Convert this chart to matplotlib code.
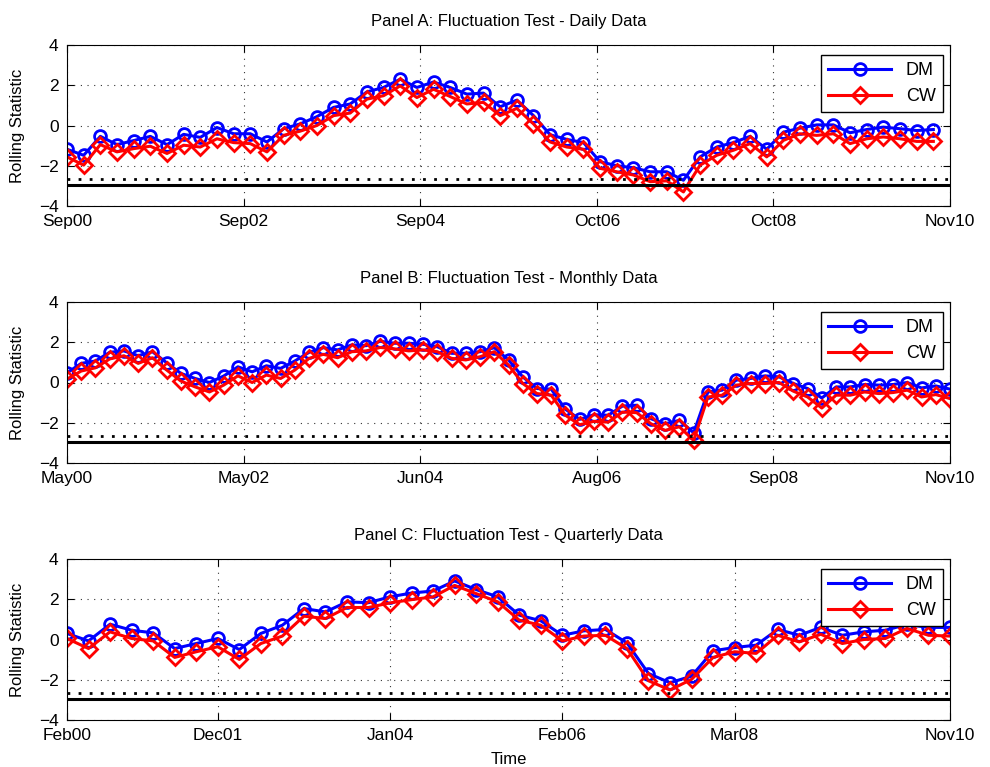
import numpy as np
import matplotlib
matplotlib.use("Agg")
import matplotlib.pyplot as plt

plt.rcParams['font.family'] = ['Liberation Sans', 'DejaVu Sans']

# Panel A: daily data
dm_daily = [-1.18, -1.48, -0.54, -0.95, -0.75, -0.54, -0.95, -0.44, -0.59, -0.10,
            -0.41, -0.41, -0.82, -0.16, 0.08, 0.44, 0.90, 1.07, 1.67, 1.89,
            2.30, 1.89, 2.16, 1.89, 1.56, 1.61, 0.93, 1.26, 0.49, -0.46,
            -0.69, -0.85, -1.80, -2.00, -2.10, -2.30, -2.30, -2.72, -1.56, -1.07,
            -0.85, -0.54, -1.18, -0.33, -0.13, 0.03, 0.03, -0.36, -0.20, -0.08,
            -0.16, -0.25, -0.20]
cw_daily = [-1.56, -1.97, -0.95, -1.31, -1.15, -1.03, -1.39, -0.98, -1.07, -0.66,
            -0.85, -0.90, -1.31, -0.49, -0.28, 0.00, 0.49, 0.62, 1.31, 1.48,
            1.97, 1.39, 1.80, 1.44, 1.07, 1.15, 0.49, 0.85, 0.08, -0.82,
            -1.07, -1.18, -2.13, -2.30, -2.46, -2.79, -2.75, -3.30, -1.97, -1.48,
            -1.23, -0.90, -1.56, -0.74, -0.41, -0.49, -0.41, -0.90, -0.66, -0.57,
            -0.66, -0.79, -0.79]
ticks_daily = ['Sep00', 'Sep02', 'Sep04', 'Oct06', 'Oct08', 'Nov10']

# Panel B: monthly data
dm_monthly = [0.48, 0.95, 1.07, 1.50, 1.57, 1.33, 1.53, 0.98, 0.45, 0.20,
              0.00, 0.32, 0.78, 0.53, 0.83, 0.70, 1.07, 1.50, 1.73, 1.62,
              1.87, 1.83, 2.05, 1.95, 1.95, 1.90, 1.78, 1.45, 1.45, 1.53,
              1.73, 1.12, 0.28, -0.30, -0.33, -1.33, -1.83, -1.60, -1.63, -1.17,
              -1.13, -1.80, -2.05, -1.88, -2.50, -0.47, -0.38, 0.12, 0.20, 0.33,
              0.28, -0.05, -0.30, -0.77, -0.22, -0.22, -0.10, -0.13, -0.10, 0.00,
              -0.27, -0.17, -0.33]
cw_monthly = [0.17, 0.57, 0.73, 1.17, 1.33, 0.95, 1.23, 0.62, 0.07, -0.22,
              -0.47, -0.13, 0.33, 0.00, 0.37, 0.20, 0.62, 1.20, 1.40, 1.23,
              1.53, 1.57, 1.74, 1.67, 1.57, 1.62, 1.53, 1.20, 1.12, 1.28,
              1.53, 0.87, -0.05, -0.55, -0.63, -1.63, -2.10, -1.93, -1.97, -1.47,
              -1.50, -2.05, -2.38, -2.20, -2.88, -0.72, -0.63, -0.13, -0.05, -0.05,
              0.00, -0.43, -0.72, -1.27, -0.63, -0.63, -0.47, -0.55, -0.50, -0.38,
              -0.72, -0.60, -0.80]
ticks_monthly = ['May00', 'May02', 'Jun04', 'Aug06', 'Sep08', 'Nov10']

# Panel C: quarterly data
dm_quarterly = [0.30, -0.07, 0.76, 0.46, 0.33, -0.45, -0.20, 0.05, -0.50, 0.30,
                0.71, 1.54, 1.37, 1.87, 1.83, 2.12, 2.31, 2.41, 2.91, 2.48,
                2.12, 1.21, 0.93, 0.21, 0.43, 0.50, -0.17, -1.69, -2.15, -1.82,
                -0.56, -0.40, -0.28, 0.50, 0.21, 0.60, 0.21, 0.38, 0.46, 0.75,
                0.60, 0.60]
cw_quarterly = [0.05, -0.45, 0.38, 0.05, -0.07, -0.89, -0.61, -0.36, -0.99, -0.20,
                0.17, 1.16, 1.04, 1.59, 1.59, 1.82, 1.98, 2.12, 2.69, 2.28,
                1.87, 0.96, 0.71, -0.07, 0.17, 0.21, -0.45, -2.05, -2.51, -1.98,
                -0.89, -0.61, -0.69, 0.21, -0.12, 0.26, -0.20, 0.00, 0.05, 0.55,
                0.21, 0.17]
ticks_quarterly = ['Feb00', 'Dec01', 'Jan04', 'Feb06', 'Mar08', 'Nov10']
tickpos_quarterly = [0, 7, 15, 23, 31, 41]

crit_10 = -2.65
crit_5 = -2.95

panels = [
    ('Panel A: Fluctuation Test - Daily Data', dm_daily, cw_daily, 53,
     np.linspace(0, 53, 6), ticks_daily),
    ('Panel B: Fluctuation Test - Monthly Data', dm_monthly, cw_monthly, 62,
     np.linspace(0, 62, 6), ticks_monthly),
    ('Panel C: Fluctuation Test - Quarterly Data', dm_quarterly, cw_quarterly, 41,
     tickpos_quarterly, ticks_quarterly),
]

fig = plt.figure(figsize=(9.9, 7.67), dpi=100)
tops = [45, 302, 559]
for k, (title, dm, cw, xmax, tpos, tlab) in enumerate(panels):
    top = tops[k]
    ax = fig.add_axes([67 / 990, 1 - (top + 161) / 767, 883 / 990, 161 / 767])
    x = np.arange(len(dm))
    ax.plot(x, dm, '-o', color='blue', lw=2.2, ms=8.5, mfc='none', mew=2.0, label='DM')
    ax.plot(x, cw, '-D', color='red', lw=2.2, ms=8.5, mfc='none', mew=2.0, label='CW')
    ax.axhline(crit_10, color='k', ls=(0, (1, 3)), lw=2.0)
    ax.axhline(crit_5, color='k', ls='-', lw=2.2)
    ax.set_xlim(0, xmax)
    ax.set_ylim(-4, 4)
    ax.set_yticks([-4, -2, 0, 2, 4])
    ax.set_xticks(tpos)
    ax.set_xticklabels(tlab)
    ax.grid(True, color='k', ls=(0, (1, 5)), lw=0.8, alpha=0.8)
    ax.tick_params(direction='in', top=True, right=True, labelsize=12.5, length=5, pad=6)
    ax.set_title(title, fontsize=12, pad=14)
    ax.set_ylabel('Rolling Statistic', fontsize=12)
    ax.yaxis.set_label_coords(-0.047, 0.5)
    leg = ax.legend(loc='upper right', bbox_to_anchor=(0.992, 0.94), borderaxespad=0,
                    fontsize=13, handlelength=3.5, fancybox=False, framealpha=1,
                    edgecolor='k')
    leg.get_frame().set_linewidth(1.0)
    if k == 2:
        ax.set_xlabel('Time', fontsize=12, labelpad=6)

fig.savefig('out.png', dpi=100)
